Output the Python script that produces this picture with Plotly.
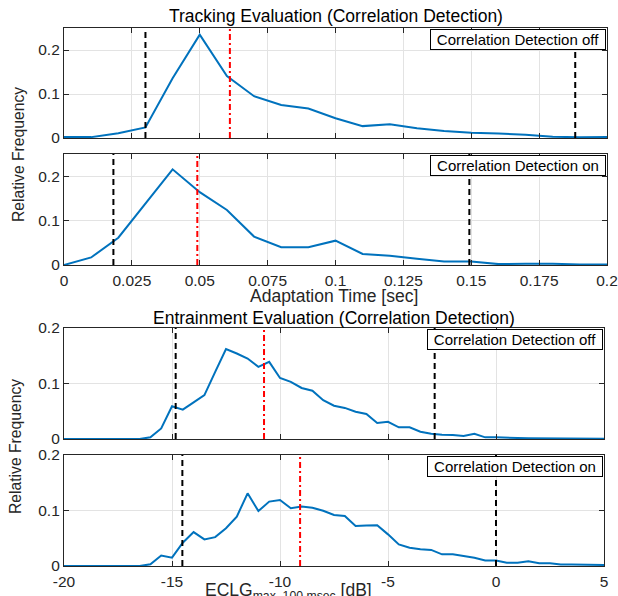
import plotly.graph_objects as go

# ---------------- data ----------------
track_x = [0, 0.01, 0.02, 0.03, 0.04, 0.05, 0.06, 0.07, 0.08, 0.09, 0.10,
           0.11, 0.12, 0.13, 0.14, 0.15, 0.16, 0.17, 0.18, 0.19, 0.20]
track_off = [0.002, 0.002, 0.011, 0.024, 0.136, 0.235, 0.141, 0.095, 0.075, 0.067, 0.045,
             0.027, 0.031, 0.022, 0.016, 0.012, 0.010, 0.0075, 0.003, 0.0015, 0.002]
track_on = [0.0, 0.017, 0.0615, 0.138, 0.2155, 0.164, 0.124, 0.064, 0.040, 0.040, 0.0548,
            0.025, 0.021, 0.014, 0.008, 0.008, 0.002, 0.003, 0.003, 0.001, 0.001]

ent_x = [-20, -19.5, -19, -18.5, -18, -17.5, -17, -16.5, -16, -15.5, -15, -14.5, -14,
         -13.5, -13, -12.5, -12, -11.5, -11, -10.5, -10, -9.5, -9, -8.5, -8, -7.5,
         -7, -6.5, -6, -5.5, -5, -4.5, -4, -3.5, -3, -2.5, -2, -1.5, -1, -0.5, 0,
         0.5, 1, 1.5, 2, 2.5, 3, 3.5, 4, 4.5, 5]
ent_off = [0, 0, 0, 0, 0, 0, 0, 0,
           0.003, 0.019, 0.059, 0.053, 0.066, 0.079, 0.121, 0.162, 0.154, 0.145,
           0.130, 0.139, 0.110, 0.103, 0.092, 0.087, 0.070, 0.060, 0.056, 0.049,
           0.045, 0.029, 0.031, 0.021, 0.021, 0.013, 0.0095, 0.0075, 0.007, 0.0054,
           0.0095, 0.003, 0.003, 0.002, 0.002, 0.0015, 0.0015, 0.001, 0.001, 0.001,
           0.0008, 0.0005, 0.0005]
ent_on = [0, 0, 0, 0, 0, 0, 0, 0,
          0.003, 0.019, 0.015, 0.042, 0.061, 0.048, 0.052, 0.068, 0.089, 0.131,
          0.099, 0.116, 0.119, 0.104, 0.107, 0.105, 0.0995, 0.092, 0.090, 0.072,
          0.073, 0.0735, 0.057, 0.039, 0.033, 0.030, 0.029, 0.021, 0.021, 0.0175,
          0.015, 0.010, 0.010, 0.006, 0.006, 0.0085, 0.005, 0.005, 0.0025, 0.0025,
          0.002, 0.002, 0.002]

# percentile (black dashed) and median (red dash-dot) markers
track_off_bounds = [0.030, 0.1883]
track_off_median = 0.0611
track_on_bounds = [0.0182, 0.1493]
track_on_median = 0.0491
ent_off_bounds = [-14.83, -2.84]
ent_off_median = -10.74
ent_on_bounds = [-14.52, 0.0]
ent_on_median = -9.07

track_ticks = [0, 0.025, 0.05, 0.075, 0.1, 0.125, 0.15, 0.175, 0.2]
track_ticktext = ["0", "0.025", "0.05", "0.075", "0.1", "0.125", "0.15", "0.175", "0.2"]
ent_ticks = [-20, -15, -10, -5, 0, 5]
ent_ticktext = ["-20", "-15", "-10", "-5", "0", "5"]
y_ticks = [0, 0.1, 0.2]
y_ticktext = ["0", "0.1", "0.2"]

legend_labels = ["Correlation Detection off", "Correlation Detection on",
                 "Correlation Detection off", "Correlation Detection on"]

# ---------------- layout helpers ----------------
W, H = 618, 596
FONT = "Liberation Sans, Arial, Helvetica, sans-serif"
FS = 15.5
AX = "#262626"
GRID = "#e3e3e3"
BLUE = "#0072BD"


def px_x(p):
    return p / W


def px_y(p):
    return 1 - p / H


panels = [
    # (x0, x1, ytop, ybottom)
    (64, 607, 28, 138),
    (64, 607, 154, 265),
    (64, 604, 328, 439),
    (64, 604, 455, 566),
]

fig = go.Figure()

series = [(track_x, track_off), (track_x, track_on), (ent_x, ent_off), (ent_x, ent_on)]
bounds = [track_off_bounds, track_on_bounds, ent_off_bounds, ent_on_bounds]
medians = [track_off_median, track_on_median, ent_off_median, ent_on_median]

for i, (xs, ys) in enumerate(series):
    n = "" if i == 0 else str(i + 1)
    fig.add_trace(go.Scatter(x=xs, y=ys, mode="lines", line=dict(color=BLUE, width=2),
                             xaxis="x" + n, yaxis="y" + n, showlegend=False,
                             hoverinfo="skip"))

layout = dict(width=W, height=H, margin=dict(l=0, r=0, t=0, b=0, autoexpand=False),
              template="none",
              paper_bgcolor="white", plot_bgcolor="white",
              font=dict(family=FONT, size=FS, color=AX), showlegend=False)

for i, (x0, x1, yt, yb) in enumerate(panels):
    n = "" if i == 0 else str(i + 1)
    is_track = i < 2
    show_x_labels = i in (1, 3)
    xa = dict(domain=[px_x(x0), px_x(x1)], anchor="y" + n, automargin=False,
              range=[0, 0.2] if is_track else [-20, 5],
              tickvals=track_ticks if is_track else ent_ticks,
              ticktext=track_ticktext if is_track else ent_ticktext,
              showticklabels=show_x_labels, ticklabelstandoff=1,
              ticks="inside", ticklen=5, tickwidth=1, tickcolor=AX,
              showline=True, linecolor=AX, linewidth=1.2, mirror="ticks",
              showgrid=True, gridcolor=GRID, gridwidth=1, zeroline=False,
              tickfont=dict(family=FONT, size=FS, color=AX))
    ya = dict(domain=[px_y(yb), px_y(yt)], anchor="x" + n, automargin=False,
              range=[0, 0.25] if is_track else [0, 0.2],
              tickvals=y_ticks, ticktext=y_ticktext,
              ticks="inside", ticklen=5, tickwidth=1, tickcolor=AX,
              showline=True, linecolor=AX, linewidth=1.2, mirror="ticks",
              showgrid=True, gridcolor=GRID, gridwidth=1, zeroline=False,
              tickfont=dict(family=FONT, size=FS, color=AX))
    layout["xaxis" + n] = xa
    layout["yaxis" + n] = ya

fig.update_layout(**layout)

shapes = []
annotations = []
for i in range(4):
    n = "" if i == 0 else str(i + 1)
    for b in bounds[i]:
        shapes.append(dict(type="line", xref="x" + n, yref="y" + n + " domain",
                           x0=b, x1=b, y0=0, y1=1,
                           line=dict(color="black", width=2, dash="6px,4px")))
    shapes.append(dict(type="line", xref="x" + n, yref="y" + n + " domain",
                       x0=medians[i], x1=medians[i], y0=0, y1=1,
                       line=dict(color="#FF0000", width=2, dash="6px,3px,2px,3px")))
    x0, x1, yt, yb = panels[i]
    annotations.append(dict(text=legend_labels[i], xref="paper", yref="paper",
                            x=px_x(x1 - 1), y=px_y(yt + 1),
                            xanchor="right", yanchor="top", showarrow=False,
                            bgcolor="white", bordercolor="black", borderwidth=1,
                            borderpad=1, width=172, height=17,
                            font=dict(family=FONT, size=15, color="black")))

TS = 17.5
# titles
annotations.append(dict(text="Tracking Evaluation (Correlation Detection)",
                        xref="paper", yref="paper", x=px_x(335.5), y=px_y(16.5),
                        xanchor="center", yanchor="middle", showarrow=False,
                        font=dict(family=FONT, size=TS, color="black")))
annotations.append(dict(text="Entrainment Evaluation (Correlation Detection)",
                        xref="paper", yref="paper", x=px_x(334), y=px_y(318),
                        xanchor="center", yanchor="middle", showarrow=False,
                        font=dict(family=FONT, size=TS, color="black")))
# axis titles
annotations.append(dict(text="Adaptation Time [sec]",
                        xref="paper", yref="paper", x=px_x(334), y=px_y(295.5),
                        xanchor="center", yanchor="middle", showarrow=False,
                        font=dict(family=FONT, size=TS, color=AX)))
annotations.append(dict(text="ECLG<sub>max, 100 msec</sub> [dB]",
                        xref="paper", yref="paper", x=px_x(203), y=px_y(578),
                        xanchor="left", yanchor="top", showarrow=False,
                        font=dict(family=FONT, size=TS, color=AX)))
annotations.append(dict(text="Relative Frequency", textangle=-90,
                        xref="paper", yref="paper", x=px_x(19), y=px_y(155),
                        xanchor="center", yanchor="middle", showarrow=False,
                        font=dict(family=FONT, size=15.7, color=AX)))
annotations.append(dict(text="Relative Frequency", textangle=-90,
                        xref="paper", yref="paper", x=px_x(15), y=px_y(447),
                        xanchor="center", yanchor="middle", showarrow=False,
                        font=dict(family=FONT, size=15.7, color=AX)))

fig.update_layout(shapes=shapes, annotations=annotations)
fig.write_html("out.html",
               config={"displayModeBar": False},
               post_script="document.body.style.margin='0px';"
                           "document.body.style.overflow='hidden';")
